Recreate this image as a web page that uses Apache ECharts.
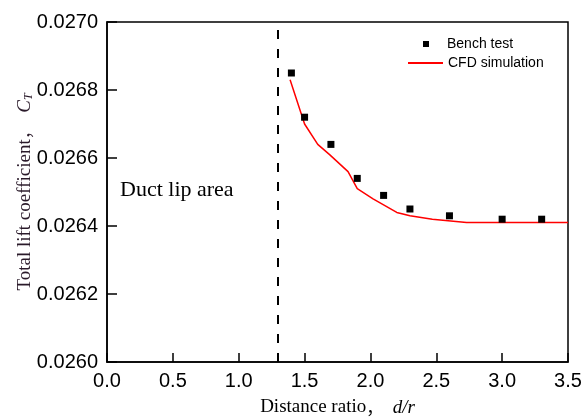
<!DOCTYPE html>
<html>
<head>
<meta charset="utf-8">
<script src="https://cdn.jsdelivr.net/npm/echarts@6/dist/echarts.min.js"></script>
<style>
html,body{margin:0;padding:0;background:#fff;}
#chart{width:584px;height:419px;}
</style>
</head>
<body>
<div id="chart"></div>
<script>
// Data
var benchX = [1.4, 1.5, 1.7, 1.9, 2.1, 2.3, 2.6, 3.0, 3.3];
var benchY = [0.02685, 0.02672, 0.02664, 0.02654, 0.02649, 0.02645, 0.02643, 0.02642, 0.02642];
var cfdX = [1.39, 1.5, 1.6, 1.69, 1.83, 1.9, 2.02, 2.2, 2.3, 2.47, 2.73, 2.95, 3.5];
var cfdY = [0.02683, 0.02670, 0.02664, 0.02661, 0.02656, 0.02651, 0.02648, 0.02644, 0.02643, 0.02642, 0.02641, 0.02641, 0.02641];
var lipX = 1.3;
var xTicks = ['0.0','0.5','1.0','1.5','2.0','2.5','3.0','3.5'];
var yTicks = ['0.0260','0.0262','0.0264','0.0266','0.0268','0.0270'];

var chart = echarts.init(document.getElementById('chart'));
var benchData = benchX.map(function(x,i){return [x, benchY[i]];});
var cfdData = cfdX.map(function(x,i){return [x, cfdY[i]];});
var serif = 'Liberation Serif, Times New Roman';

chart.setOption({
  animation: false,
  backgroundColor: '#fff',
  grid: {left: 107, top: 22, right: 16, bottom: 57, containLabel: false, outerBoundsMode: 'none',
    show: true, borderColor: '#000', borderWidth: 1.5, backgroundColor: 'transparent'},
  legend: [
    {data: ['Bench test'], left: 423, top: 37, padding: 0, icon: 'rect', itemWidth: 6, itemHeight: 6,
     itemStyle: {color: '#000', opacity: 1},
     textStyle: {fontFamily: 'Liberation Sans, Arial', fontSize: 14, color: '#000', padding: [0,0,0,13]}},
    {data: ['CFD simulation'], left: 408, top: 56, padding: 0, icon: 'rect', itemWidth: 35, itemHeight: 2,
     itemStyle: {color: '#ff0000'},
     textStyle: {fontFamily: 'Liberation Sans, Arial', fontSize: 14, color: '#000'}}
  ],
  xAxis: {
    type: 'value', min: 0, max: 3.5, interval: 0.5,
    name: 'Distance ratio{cm|，}  {it|d/r}', nameLocation: 'middle', nameGap: 36, nameMoveOverlap: false,
    nameTextStyle: {fontFamily: serif, fontSize: 19, color: '#000',
      rich: {it: {fontFamily: serif, fontStyle: 'italic', fontSize: 19, color: '#000'},
             cm: {fontFamily: 'Noto Sans CJK SC', fontSize: 17, color: '#000'}}},
    axisLine: {lineStyle: {color: '#000', width: 1.5}},
    axisTick: {inside: true, length: 9, lineStyle: {color: '#000', width: 1.5}},
    axisLabel: {fontFamily: 'Liberation Sans, Arial', fontSize: 20, color: '#000', margin: 9,
      formatter: function(v){ var i = Math.round(v/0.5); return xTicks[i] !== undefined ? xTicks[i] : v.toFixed(1); }},
    splitLine: {show: false}
  },
  yAxis: {
    type: 'value', min: 0.026, max: 0.027, interval: 0.0002,
    name: 'Total lift coefficient{cm|，}  {c|C}{s|T}', nameLocation: 'middle', nameGap: 72, nameRotate: 90, nameMoveOverlap: false,
    nameTextStyle: {fontFamily: serif, fontSize: 19, color: '#2a1a2a',
      rich: {c: {fontFamily: serif, fontStyle: 'italic', fontSize: 19, color: '#2a1a2a'},
             cm: {fontFamily: 'Noto Sans CJK SC', fontSize: 17, color: '#2a1a2a'},
             s: {fontFamily: serif, fontStyle: 'italic', fontSize: 12, color: '#2a1a2a', verticalAlign: 'bottom', padding: [8,0,0,0]}}},
    axisLine: {lineStyle: {color: '#000', width: 1.5}},
    axisTick: {inside: true, length: 10, lineStyle: {color: '#000', width: 1.5}},
    axisLabel: {fontFamily: 'Liberation Sans, Arial', fontSize: 20, color: '#000', margin: 9,
      formatter: function(v){ var i = Math.round((v-0.026)/0.0002); return yTicks[i] !== undefined ? yTicks[i] : v.toFixed(4); }},
    splitLine: {show: false}
  },
  graphic: [
    {type: 'text', left: 120, top: 179, style: {text: 'Duct lip area', fontFamily: serif, fontSize: 22, fill: '#000'}}
  ],
  series: [
    {name: 'CFD simulation', type: 'line', data: cfdData, symbol: 'none', smooth: false,
     lineStyle: {color: '#ff0000', width: 1.5}, itemStyle: {color: '#ff0000'}, z: 2,
     markLine: {silent: true, symbol: ['none','none'], label: {show: false},
       lineStyle: {color: '#000', type: [9,10], width: 2}, data: [{xAxis: lipX}]}},
    {name: 'Bench test', type: 'scatter', data: benchData, symbol: 'rect', symbolSize: 7,
     itemStyle: {color: '#000', opacity: 1}, z: 3}
  ]
});
</script>
</body>
</html>
